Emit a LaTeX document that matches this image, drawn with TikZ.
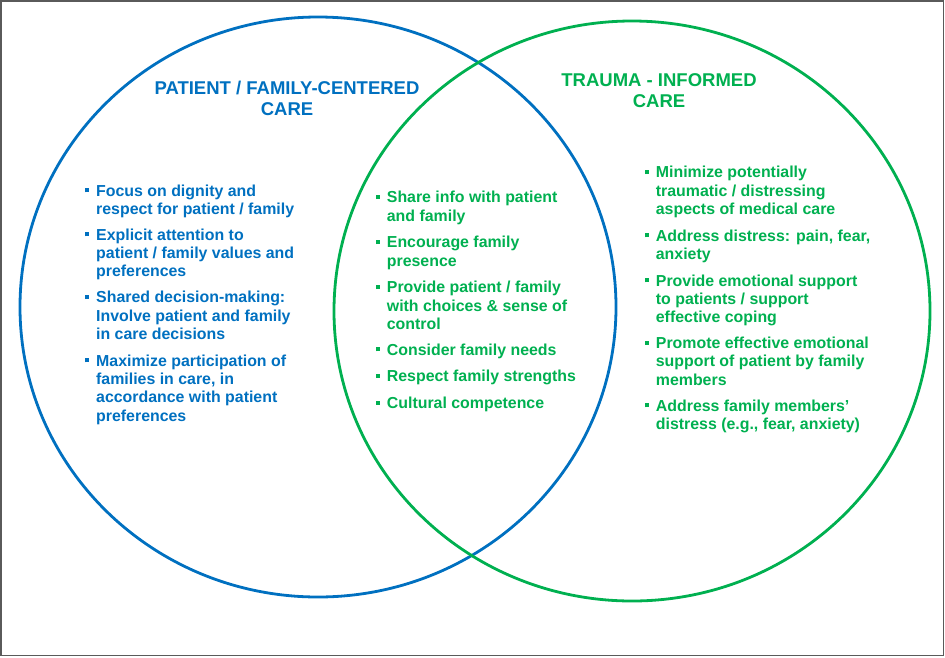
\documentclass[tikz,border=0pt]{standalone}
\usepackage{fontspec}
\setmainfont{Liberation Sans}
\definecolor{pblue}{HTML}{0070C0}
\definecolor{tgreen}{HTML}{00B050}
\definecolor{framegray}{HTML}{5A5A5A}
\newcommand{\bulletlines}[1]{\llap{\rule[3.6pt]{4pt}{4pt}\hspace{6.8pt}}\vtop{\baselineskip=18.35pt\halign{##\hfil\cr#1\crcr}}}
\begin{document}
\begin{tikzpicture}[x=1pt,y=-1pt,
  itembox/.style={inner sep=0pt, anchor=base west, font=\bfseries\fontsize{15.9}{18.35}\selectfont},
  titlebox/.style={inner sep=0pt, anchor=base, font=\bfseries\fontsize{18.5}{21}\selectfont},
  ring/.style={line width=2.8pt}]
\useasboundingbox (0,0) rectangle (945,657);
\draw[framegray, line width=1.6pt] (1,1) rectangle (943.5,655.5);
% circles
\draw[ring, pblue] (318,307) ellipse [x radius=298pt, y radius=290pt];
\draw[ring, tgreen] (632,311) ellipse [x radius=298pt, y radius=290pt];
% titles
\node[titlebox, text=pblue] (pt1) at (287,94) {PATIENT / FAMILY-CENTERED};
\node[titlebox, text=pblue] (pt2) at (287,115) {CARE};
\node[titlebox, text=tgreen] (tt1) at (659,86) {TRAUMA - INFORMED};
\node[titlebox, text=tgreen] (tt2) at (659,107) {CARE};
% left column
\node[itembox, text=pblue] (l1) at (96,196) {\bulletlines{Focus on dignity and\cr respect for patient / family}};
\node[itembox, text=pblue] (l2) at (96,240) {\bulletlines{Explicit attention to\cr patient / family values and\cr preferences}};
\node[itembox, text=pblue] (l3) at (96,302.7) {\bulletlines{Shared decision-making:\cr Involve patient and family\cr in care decisions}};
\node[itembox, text=pblue] (l4) at (96,366) {\bulletlines{Maximize participation of\cr families in care, in\cr accordance with patient\cr preferences}};
% middle column
\node[itembox, text=tgreen] (m1) at (386.7,202.7) {\bulletlines{Share info with patient\cr and family}};
\node[itembox, text=tgreen] (m2) at (386.7,247.7) {\bulletlines{Encourage family\cr presence}};
\node[itembox, text=tgreen] (m3) at (386.7,292.7) {\bulletlines{Provide patient / family\cr with choices \& sense of\cr control}};
\node[itembox, text=tgreen] (m4) at (386.7,355) {\bulletlines{Consider family needs}};
\node[itembox, text=tgreen] (m5) at (386.7,381.7) {\bulletlines{Respect family strengths}};
\node[itembox, text=tgreen] (m6) at (386.7,408.3) {\bulletlines{Cultural competence}};
% right column
\node[itembox, text=tgreen] (r1) at (655.7,177.7) {\bulletlines{Minimize potentially\cr traumatic / distressing\cr aspects of medical care}};
\node[itembox, text=tgreen] (r2) at (655.7,241) {\bulletlines{Address distress: pain, fear,\cr anxiety}};
\node[itembox, text=tgreen] (r3) at (655.7,286) {\bulletlines{Provide emotional support\cr to patients / support\cr effective coping}};
\node[itembox, text=tgreen] (r4) at (655.7,348.3) {\bulletlines{Promote effective emotional\cr support of patient by family\cr members}};
\node[itembox, text=tgreen] (r5) at (655.7,411) {\bulletlines{Address family members’\cr distress (e.g., fear, anxiety)}};
\end{tikzpicture}
\end{document}
